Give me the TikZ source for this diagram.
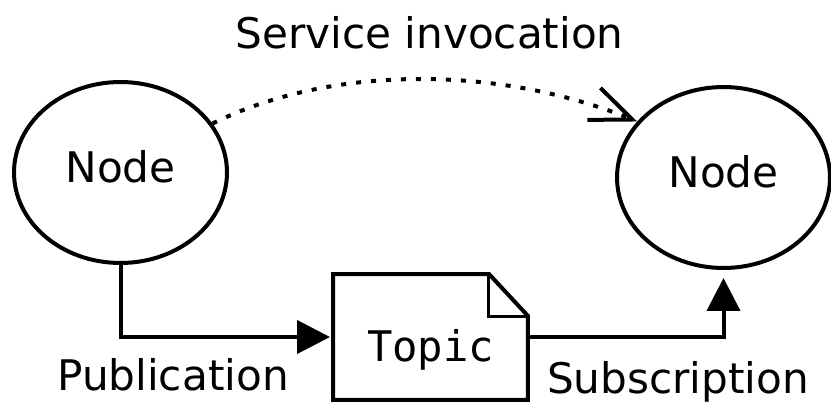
\documentclass[tikz,border=0pt]{standalone}
\usepackage{fontspec}
\setmainfont{DejaVu Sans}
\setmonofont{DejaVu Sans Mono}
\usetikzlibrary{shapes.geometric,arrows.meta}
\begin{document}
\begin{tikzpicture}[x=0.02cm,y=0.02cm,line width=0.08cm,
  font=\fontsize{24}{28}\selectfont,
  proc/.style={draw,ellipse,minimum width=4.26cm,minimum height=3.62cm,inner sep=0pt,text height=0.42cm,text depth=0pt},
  flow/.style={-{Triangle[length=0.66cm,width=0.66cm]}},
  call/.style={dash pattern=on 0.1cm off 0.2cm,-{Straight Barb[length=0.83cm,width=0.69cm]}}]
\useasboundingbox (0,0) rectangle (831,406);
\node[proc] (node1) at (120.5,233.5) {Node};
\node[proc] (node2) at (723.5,228.5) {Node};
\node[minimum width=3.82cm,minimum height=2.44cm,inner sep=0pt,text height=1cm,text depth=0pt,font=\fontsize{24}{28}\ttfamily] (topic) at (430.5,69) {Topic};
\draw (topic.south west) -- (topic.north west) -- ([xshift=-0.78cm]topic.north east) -- ([yshift=-0.84cm]topic.north east) -- (topic.south east) -- cycle;
\draw[line width=0.06cm] ([xshift=-0.78cm]topic.north east) |- ([yshift=-0.84cm]topic.north east);
\draw[flow,shorten >=0.06cm] (node1.south) |- (topic.west);
\draw[flow,shorten >=0.16cm] (topic.east) -| (node2.south);
\draw[call] (node1.28) .. controls (330,341) and (498,341) .. (node2.147);
\node[anchor=base] (srv) at (429.5,357) {Service invocation};
\node[anchor=base] (pub) at (173,16) {Publication};
\node[anchor=base] (sub) at (678,13) {Subscription};
\end{tikzpicture}
\end{document}
